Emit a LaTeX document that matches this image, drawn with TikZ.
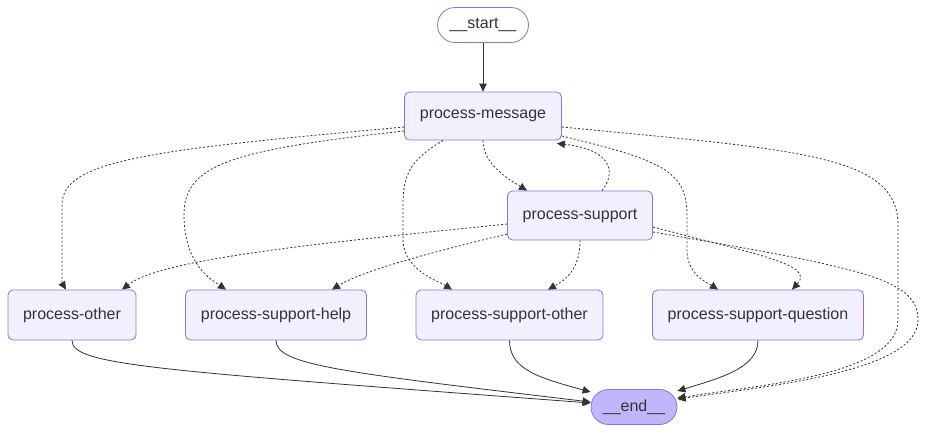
\documentclass[tikz,border=0pt]{standalone}
\usepackage{fontspec}
\setmainfont{Liberation Sans}
\usetikzlibrary{arrows.meta,calc}
\definecolor{nodefill}{HTML}{F2F0FF}
\definecolor{endfill}{HTML}{BFB6FC}
\definecolor{nodeline}{HTML}{9370DB}
\definecolor{edgecol}{HTML}{333333}
\begin{document}
\begin{tikzpicture}[x=1pt,y=-1pt,
  box/.style={draw=nodeline,line width=0.8pt,fill=nodefill,rounded corners=5pt,
    inner sep=0pt,minimum height=49pt,text=edgecol,font=\fontsize{16}{19}\selectfont},
  pill/.style={box,rounded corners=17.5pt,minimum height=35pt},
  edge/.style={draw=edgecol,line width=0.8pt,-{Triangle[length=8pt,width=7.5pt]}},
  dot/.style={edge,dash pattern=on 2pt off 2pt}]
\useasboundingbox (0,0) rectangle (926,432);
\node[pill,fill=white,minimum width=91pt] (st) at (483,25) {\_\_start\_\_};
\node[box,minimum width=157pt,minimum height=48pt] (pm) at (483,116) {process-message};
\node[box,minimum width=145pt] (ps) at (580,215.5) {process-support};
\node[box,minimum width=128pt,minimum height=50pt] (po) at (72,315) {process-other};
\node[box,minimum width=181pt,minimum height=50pt] (psh) at (276,315) {process-support-help};
\node[box,minimum width=187pt,minimum height=50pt] (pso) at (509.5,315) {process-support-other};
\node[box,minimum width=211pt,minimum height=50pt] (psq) at (758,315) {process-support-question};
\node[pill,fill=endfill,minimum width=86pt] (en) at (634,407) {\_\_end\_\_};
% solid edges
\draw[edge] (st.south) -- (pm.north);
\draw[edge] (po.south) .. controls (72,365) and (150,370) .. ($(en.west)+(0,-4)$);
\draw[edge] (psh.south) .. controls (276,365) and (340,372) .. ($(en.west)+(0,-5)$);
\draw[edge] (pso.south) .. controls (509.5,370) and (540,378) .. ($(en.west)+(0,-15)$);
\draw[edge] (psq.south) .. controls (758,368) and (720,378) .. ($(en.east)+(0,-16)$);
% dotted edges from process-message
\draw[dot] ($(pm.west)+(0,11)$) .. controls (150,150) and (62,160) .. (62,205) -- (62,275) .. controls (62,283) .. ($(po.north)+(-6,0)$);
\draw[dot] ($(pm.west)+(0,15)$) .. controls (230,150) and (184,165) .. (184,215) .. controls (184,265) and (212,280) .. ($(psh.north)+(-50,0)$);
\draw[dot] ($(pm.south)+(-40,0)$) .. controls (410,160) and (403,175) .. (403,205) -- (403,240) .. controls (403,270) and (440,282) .. ($(pso.north)+(-57.5,0)$);
\draw[dot] (pm.south) .. controls (483,165) and (510,180) .. ($(ps.north)+(-53,0)$);
\draw[dot] ($(pm.east)+(0,20)$) .. controls (660,160) and (687,170) .. (687,215) -- (687,250) .. controls (687,275) and (708,283) .. ($(psq.north)+(-40,0)$);
\draw[dot] ($(pm.east)+(0,11)$) .. controls (800,150) and (898,155) .. (898,225) -- (898,320) .. controls (898,375) and (760,385) .. ($(en.east)+(0,-9)$);
% dotted edges from process-support
\draw[dot] ($(ps.north)+(22,0)$) .. controls (615,175) and (615,150) .. ($(pm.south east)+(-5,3)$);
\draw[dot] ($(ps.west)+(0,8.5)$) .. controls (300,245) and (160,260) .. ($(po.north)+(50,0)$);
\draw[dot] ($(ps.west)+(0,18.5)$) .. controls (420,255) and (360,272) .. ($(psh.north)+(56,0)$);
\draw[dot] (ps.south) .. controls (580,270) and (565,280) .. ($(pso.north)+(38.5,0)$);
\draw[dot] ($(ps.east)+(0,11.5)$) .. controls (760,255) and (815,265) .. ($(psq.north)+(34,0)$);
\draw[dot] ($(ps.east)+(0,16.5)$) .. controls (860,268) and (918,278) .. (918,320) .. controls (918,370) and (780,385) .. ($(en.east)+(0,-8)$);
\end{tikzpicture}
\end{document}
